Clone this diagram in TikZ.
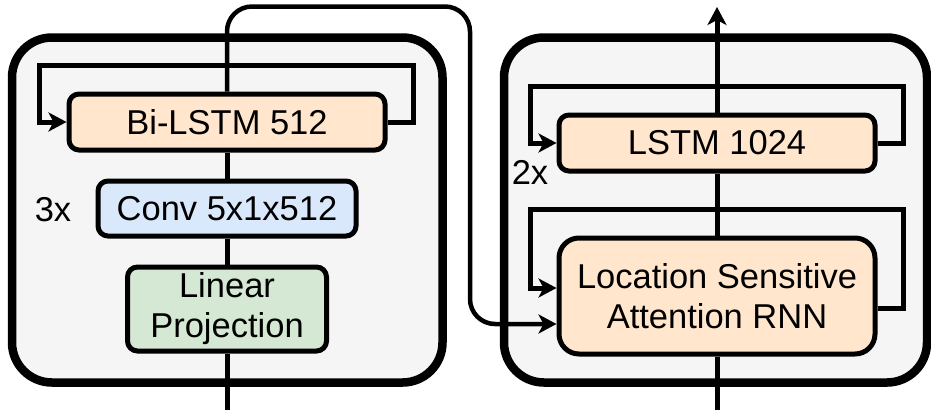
\documentclass[tikz,border=0pt]{standalone}
\usepackage{fontspec}
\setmainfont{Liberation Sans}
\usetikzlibrary{arrows.meta,calc}
\definecolor{outerfill}{HTML}{F5F5F5}
\definecolor{peach}{HTML}{FFE6CC}
\definecolor{lblue}{HTML}{DAE8FC}
\definecolor{lgreen}{HTML}{D5E8D4}
\begin{document}
\begin{tikzpicture}[x=1pt,y=-1pt,
  outerbox/.style={draw=black, line width=8.5pt, fill=outerfill, rounded corners=40pt},
  blk/.style={draw=black, line width=5pt, rounded corners=10pt, inner sep=0pt,
    align=center, font=\fontsize{34.5}{40}\selectfont},
  wire/.style={draw=black, line width=5pt, line join=miter},
  arr/.style={wire, -{Stealth[length=18pt,width=19pt,inset=5pt]}},
  lbl/.style={font=\fontsize{34.5}{40}\selectfont, inner sep=0pt}
]
\useasboundingbox (0,0) rectangle (931,413);
% outer containers
\path[outerbox] (12,37.5) rectangle (442.5,382.5);
\path[outerbox] (504,37.5) rectangle (927,382.5);

% encoder blocks
\node[blk, fill=peach, minimum width=316pt, minimum height=56pt] (bilstm) at (227,122) {Bi-LSTM 512};
\node[blk, fill=lblue, minimum width=258pt, minimum height=55pt] (conv) at (227,208.5) {Conv 5x1x512};
\node[blk, fill=lgreen, minimum width=199pt, minimum height=84pt] (lin) at (227,309) {Linear\\Projection};
\node[lbl] (three) at (53,210) {3x};

% decoder blocks
\node[blk, fill=peach, minimum width=316pt, minimum height=56pt] (lstm) at (717,143) {LSTM 1024};
\node[blk, fill=peach, minimum width=316pt, minimum height=116pt, rounded corners=20pt] (att) at (717,296) {Location Sensitive\\Attention RNN};
\node[lbl] (two) at (530,172) {2x};

% coordinates for free ends and bends
\coordinate (inL) at (227,410);
\coordinate (inR) at (717,410);
\coordinate (outR) at (717,7);
\coordinate (t1) at (227,6.5);
\coordinate (t2) at (470,6.5);
\coordinate (t3) at (470,324);
\coordinate (bl1) at (413,65);
\coordinate (bl2) at (39,65);
\coordinate (ls1) at (903,86);
\coordinate (ls2) at (530,86);
\coordinate (la1) at (903,209);
\coordinate (la2) at (530,209);
\coordinate (attin1) at ($(att.west)+(0,-8)$);
\coordinate (attout) at ($(att.east)+(0,12)$);

% encoder main flow
\draw[wire] (inL) -- (lin.south);
\draw[wire] (lin.north) -- (conv.south);
\draw[wire] (conv.north) -- (bilstm.south);
\draw[arr, line width=4.5pt, rounded corners=25pt] (bilstm.north) -- (t1) -- (t2) -- (t3) -- (att.west |- t3);

% encoder recurrence
\draw[arr] (bilstm.east) -| (bl1) -- (bl2) |- (bilstm.west);

% decoder main flow
\draw[wire] (inR) -- (att.south);
\draw[wire] (att.north) -- (lstm.south);
\draw[arr] (lstm.north) -- (outR);

% decoder recurrences
\draw[arr] (lstm.east) -| (ls1) -- (ls2) |- (lstm.west);
\draw[arr] (attout) -| (la1) -- (la2) |- (attin1);
\end{tikzpicture}
\end{document}
